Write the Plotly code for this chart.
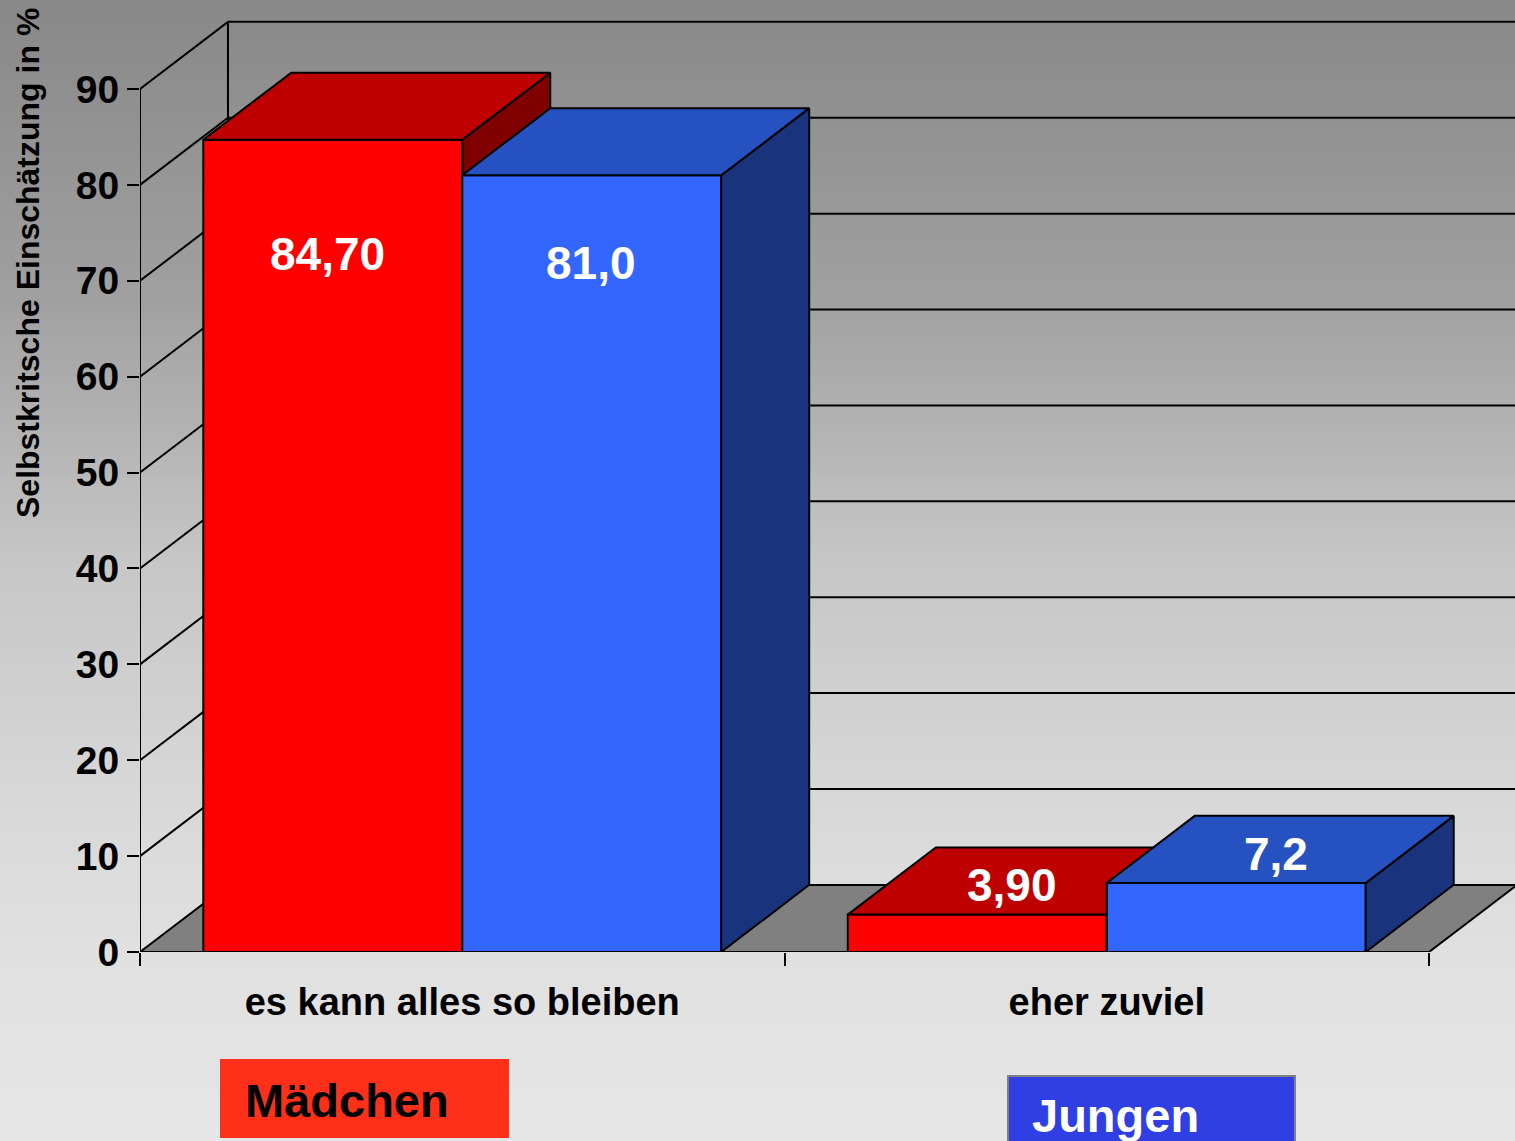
import plotly.graph_objects as go

# ---------------- data ----------------
categories = ["es kann alles so bleiben", "eher zuviel"]
series_names = ["Mädchen", "Jungen"]
maedchen_values = [84.7, 3.9]
jungen_values = [81.0, 7.2]
maedchen_labels = ["84,70", "3,90"]
jungen_labels = ["81,0", "7,2"]
y_ticks = [0, 10, 20, 30, 40, 50, 60, 70, 80, 90]
y_title = "Selbstkritsche Einschätzung in %"

# ---------------- styles / geometry ----------------
W, H = 1515, 1141
ML, MR, MT, MB = 140, 0, 0, 189
X_MAX = 2.1334          # x range (category slots of width 1)
Y_MAX = 99.28           # y range top
DX = 0.1365             # 3D depth offset in x units
DY = 7.0                # 3D depth offset in y units
GAP = 0.0982            # space before first bar in a category slot
BAR_W = 0.4018
FONT = "Liberation Sans, Arial, sans-serif"

series_styles = [
    dict(front="#FF0000", top="#BE0000", side="#800000"),
    dict(front="#3366FF", top="#2651C0", side="#1A337D"),
]
# label placement (pixel shifts from front-face centre at bar value)
label_shifts = [
    [(-5, -114), (35, 30)],
    [(-1, -88), (40, 29)],
]

fig = go.Figure()


def px_to_paper_x(p):
    return (p - ML) / (W - ML - MR)


def px_to_paper_y(p):
    return (H - MB - p) / (H - MB - MT)


# background vertical gradient (stripes)
stops = [(0, 136), (300, 160), (560, 198), (820, 217), (950, 224), (1141, 230)]


def grey_at(p):
    for (p0, c0), (p1, c1) in zip(stops[:-1], stops[1:]):
        if p0 <= p <= p1:
            return c0 + (c1 - c0) * (p - p0) / (p1 - p0)
    return stops[-1][1]


shapes = []
N = 160
step = H / N
for i in range(N):
    top = i * step
    bot = (i + 1) * step
    g = int(round(grey_at((top + bot) / 2)))
    shapes.append(dict(type="rect", xref="paper", yref="paper",
                       x0=px_to_paper_x(-2), x1=px_to_paper_x(W + 2),
                       y0=px_to_paper_y(bot + 0.6), y1=px_to_paper_y(top - 0.6),
                       fillcolor=f"rgb({g},{g},{g})", line=dict(width=0), layer="below"))

LINE = dict(color="black", width=2)

# back wall grid lines
gx, gy = [], []
for t in y_ticks[1:]:
    gx += [DX, X_MAX, None]
    gy += [t + DY, t + DY, None]
fig.add_trace(go.Scatter(x=gx, y=gy, mode="lines", line=LINE, hoverinfo="skip", showlegend=False))

# side wall diagonals
sx, sy = [], []
for t in y_ticks[1:]:
    sx += [0, DX, None]
    sy += [t, t + DY, None]
fig.add_trace(go.Scatter(x=sx, y=sy, mode="lines", line=LINE, hoverinfo="skip", showlegend=False))

# back wall left edge and front axis line
fig.add_trace(go.Scatter(x=[DX, DX, None, 0, 0], y=[DY, y_ticks[-1] + DY, None, 0, y_ticks[-1]],
                         mode="lines", line=LINE, hoverinfo="skip", showlegend=False))

# floor
n_cat = len(categories)
fig.add_trace(go.Scatter(x=[0, n_cat, n_cat + DX, DX, 0], y=[0, 0, DY, DY, 0],
                         mode="lines", fill="toself", fillcolor="#808080",
                         line=LINE, hoverinfo="skip", showlegend=False))


def poly(xs, ys, color):
    fig.add_trace(go.Scatter(x=xs + [xs[0]], y=ys + [ys[0]], mode="lines", fill="toself",
                             fillcolor=color, line=LINE, hoverinfo="skip", showlegend=False))


annotations = []
all_values = [maedchen_values, jungen_values]
all_labels = [maedchen_labels, jungen_labels]
for ci in range(n_cat):
    for si, vals in enumerate(all_values):
        v = vals[ci]
        st = series_styles[si]
        x0 = ci + GAP + si * BAR_W
        x1 = x0 + BAR_W
        # front
        poly([x0, x1, x1, x0], [0, 0, v, v], st["front"])
        # side
        poly([x1, x1 + DX, x1 + DX, x1], [0, DY, v + DY, v], st["side"])
        # top
        poly([x0, x1, x1 + DX, x0 + DX], [v, v, v + DY, v + DY], st["top"])
        sx_, sy_ = label_shifts[si][ci]
        annotations.append(dict(x=(x0 + x1) / 2, y=v, xref="x", yref="y",
                                text=all_labels[si][ci], showarrow=False,
                                xanchor="center", yanchor="middle",
                                xshift=sx_, yshift=sy_,
                                font=dict(family=FONT, size=46, color="white", weight="bold")))

# axis title
annotations.append(dict(x=px_to_paper_x(28), y=px_to_paper_y(263), xref="paper", yref="paper",
                        xanchor="center", yanchor="middle",
                        text=y_title, textangle=-90, showarrow=False,
                        font=dict(family=FONT, size=32, color="black", weight="bold")))

# legend boxes
legend_boxes = [
    dict(x0=221, x1=508, y0=1060, y1=1137, fill="#FF3019", border="#FF3019", tx=243, ty=1100, tc="black"),
    dict(x0=1008, x1=1295, y0=1076, y1=1150, fill="#2F3FE3", border="#808080", tx=1030, ty=1115, tc="white"),
]
for name, b in zip(series_names, legend_boxes):
    shapes.append(dict(type="rect", xref="paper", yref="paper",
                       x0=px_to_paper_x(b["x0"]), x1=px_to_paper_x(b["x1"]),
                       y0=px_to_paper_y(b["y1"]), y1=px_to_paper_y(b["y0"]),
                       fillcolor=b["fill"], line=dict(color=b["border"], width=2), layer="above"))
    annotations.append(dict(x=px_to_paper_x(b["tx"]), y=px_to_paper_y(b["ty"]),
                            xref="paper", yref="paper", xanchor="left", yanchor="middle",
                            text=name, showarrow=False,
                            font=dict(family=FONT, size=47, color=b["tc"], weight="bold")))

fig.update_layout(
    width=W, height=H,
    margin=dict(l=ML, r=MR, t=MT, b=MB, pad=0),
    paper_bgcolor="rgba(0,0,0,0)",
    plot_bgcolor="rgba(0,0,0,0)",
    shapes=shapes,
    annotations=annotations,
    showlegend=False,
    xaxis=dict(range=[0, X_MAX], showgrid=False, zeroline=False, showline=False,
               tickmode="array", tickvals=[i + 0.5 for i in range(n_cat)], ticktext=categories,
               ticks="", ticklabelstandoff=24,
               tickfont=dict(family=FONT, size=38, color="black", weight="bold"),
               minor=dict(tickmode="array", tickvals=list(range(n_cat + 1)), ticks="outside",
                          ticklen=13, tickwidth=2, tickcolor="black", showgrid=False),
               fixedrange=True),
    yaxis=dict(range=[0, Y_MAX], showgrid=False, zeroline=False, showline=False,
               tickmode="array", tickvals=y_ticks, ticks="outside", ticklen=12, tickwidth=2,
               tickcolor="black", ticklabelstandoff=0,
               tickfont=dict(family=FONT, size=39, color="black", weight="bold"),
               fixedrange=True),
)

fig.write_html("out.html",
               config={"displayModeBar": False},
               post_script="document.body.style.margin='0px';document.body.style.overflow='hidden';")
